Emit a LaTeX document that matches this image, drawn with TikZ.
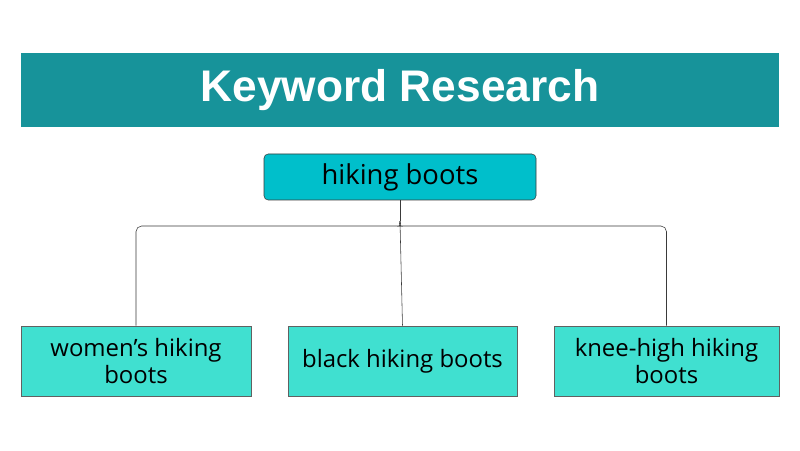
\documentclass[tikz,border=0pt]{standalone}
\usepackage{fontspec}
\setmainfont{Open Sans}
\newfontfamily\titlefont{Liberation Sans}
\usepackage{tikz}
\usetikzlibrary{positioning,calc}
\definecolor{kbanner}{HTML}{17939A}
\definecolor{kroot}{HTML}{00BFCB}
\definecolor{kleaf}{HTML}{40E0D0}
\definecolor{kline}{HTML}{3A3A3A}
\tikzset{
  % banner across the top, root keyword and the long-tail variants
  banner/.style = {rectangle, fill=kbanner, text=white, inner sep=0pt,
                   font=\titlefont\bfseries\fontsize{31.5}{36}\selectfont},
  rootkw/.style = {rectangle, rounded corners=3pt, draw=kline, fill=kroot, thin,
                   align=center, inner sep=0pt, font=\fontsize{19.5}{23}\selectfont},
  leafkw/.style = {rectangle, draw=kline!80, fill=kleaf, thin, align=center,
                   inner sep=0pt, font=\fontsize{17}{19.5}\selectfont},
  link/.style   = {thin, kline},
}
\begin{document}
\begin{tikzpicture}
\useasboundingbox (0,0) rectangle (20,11.25);
\node[banner, minimum width=18.95cm, minimum height=1.85cm] (title) at (10,9.0) {Keyword Research};
\node[rootkw, minimum width=6.8cm, minimum height=1.15cm] (root) at (10,6.825) {hiking boots};
\node[leafkw, minimum width=5.75cm,  minimum height=1.75cm] (women) at (3.4,2.225)    {women's hiking\\boots};
\node[leafkw, minimum width=5.725cm, minimum height=1.75cm] (black) at (10.0625,2.225) {black hiking boots};
\node[leafkw, minimum width=5.625cm, minimum height=1.75cm] (knee)  at (16.6625,2.225) {knee-high hiking\\boots};
\coordinate (split) at (10,5.72);
\draw[link] (root.south) -- (split);
\draw[link, rounded corners=4pt] (split) to[out=-90,in=0] (9.88,5.6) -| (women.north);
\draw[link, rounded corners=4pt] (split) to[out=-90,in=180] (10.12,5.6) -| (knee.north);
\draw[link] (split) -- (black.north);
\end{tikzpicture}
\end{document}
